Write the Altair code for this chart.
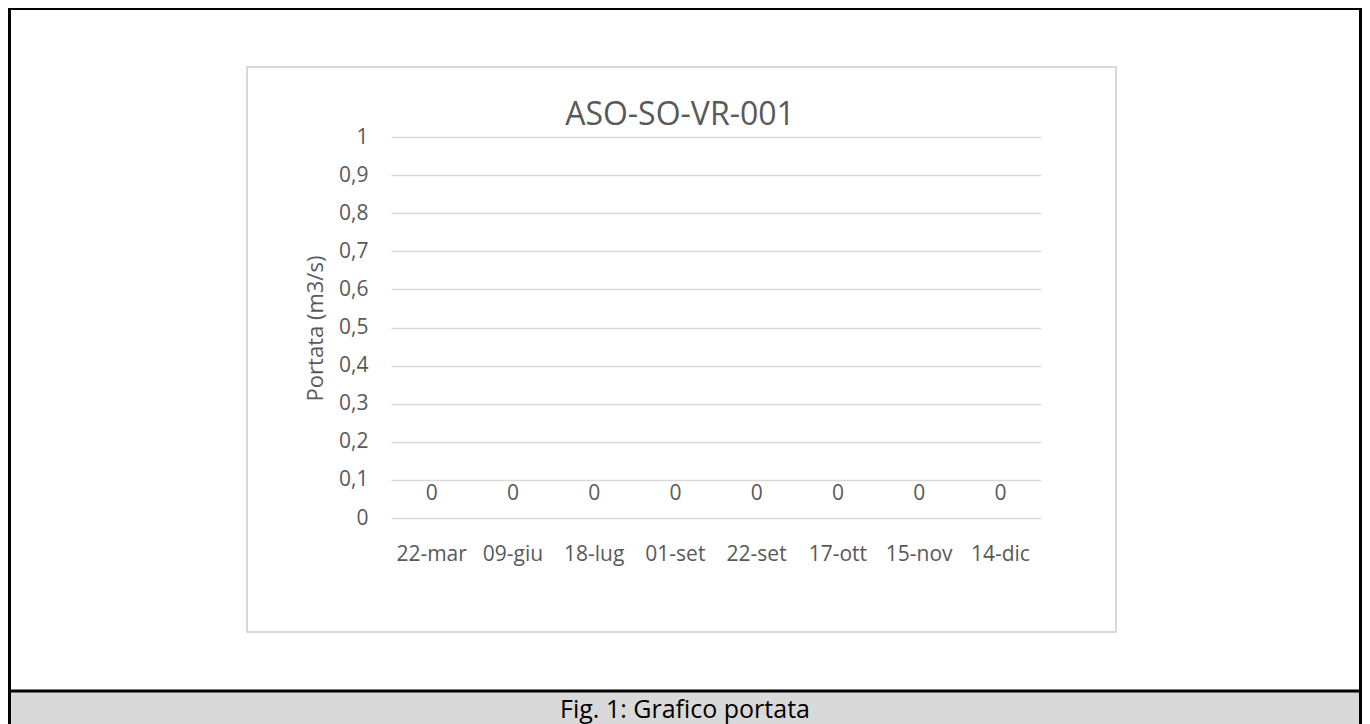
import altair as alt
import pandas as pd

# ---- data ----
dates = ["22-mar", "09-giu", "18-lug", "01-set", "22-set", "17-ott", "15-nov", "14-dic"]
portata = [0, 0, 0, 0, 0, 0, 0, 0]
y_ticks = [0, 0.1, 0.2, 0.3, 0.4, 0.5, 0.6, 0.7, 0.8, 0.9, 1]
chart_title = "ASO-SO-VR-001"
y_title = "Portata (m3/s)"
caption = "Fig. 1: Grafico portata"

FONT = "Open Sans"
GREY_TXT = "#595959"
GRID = "#d9d9d9"

df = pd.DataFrame({"data": dates, "portata": portata})
one = pd.DataFrame({"k": [0]})

W, H = 650, 381
PAD = {"left": 383, "top": 129, "right": 321, "bottom": 206}

x_enc = alt.X(
    "data:N",
    sort=dates,
    scale=alt.Scale(paddingInner=0.4, paddingOuter=0.2),
    axis=alt.Axis(
        title=None, domain=False, ticks=False, labelAngle=0,
        labelFont=FONT, labelFontSize=21, labelColor=GREY_TXT, labelPadding=25,
        labelOverlap=False, grid=False, zindex=1,
    ),
)
y_enc = alt.Y(
    "portata:Q",
    scale=alt.Scale(domain=[0, 1], nice=False, zero=True),
    axis=alt.Axis(
        values=y_ticks, title=y_title, domain=False, ticks=False,
        labelFont=FONT, labelFontSize=21, labelColor=GREY_TXT, labelPadding=23,
        labelOverlap=False, labelFlush=False,
        labelExpr="replace(format(datum.value, '.1~f'), '.', ',')",
        grid=True, gridColor=GRID, gridWidth=1.5, zindex=1,
        titleFont=FONT, titleFontSize=22, titleFontWeight="normal", titleColor=GREY_TXT,
        titleAngle=270, titleX=-76, titleY=191, titleAlign="center", titleBaseline="middle",
    ),
)

# ---- decorations (page frame, caption band, chart box) ----
outer = alt.Chart(one).mark_rect(fill="white", stroke="black", strokeWidth=3).encode(
    x=alt.value(-381.5), x2=alt.value(969.5), y=alt.value(-128.5), y2=alt.value(640)
)
band = alt.Chart(one).mark_rect(fill="#d9d9d9", stroke="black", strokeWidth=3).encode(
    x=alt.value(-381.5), x2=alt.value(969.5), y=alt.value(554), y2=alt.value(640)
)
box = alt.Chart(one).mark_rect(fill="white", stroke=GRID, strokeWidth=2).encode(
    x=alt.value(-144), x2=alt.value(725), y=alt.value(-70), y2=alt.value(495)
)
cap = alt.Chart(one).mark_text(
    text=caption, font=FONT, fontSize=25, color="black", align="center", baseline="alphabetic"
).encode(x=alt.value(294), y=alt.value(581))
ttl = alt.Chart(one).mark_text(
    text=chart_title, font=FONT, fontSize=32, color=GREY_TXT, align="center", baseline="alphabetic"
).encode(x=alt.value(289), y=alt.value(-12))

# ---- data marks ----
bars = alt.Chart(df).mark_bar(color="#4472c4").encode(x=x_enc, y=y_enc)
labels = alt.Chart(df).mark_text(
    font=FONT, fontSize=21, color=GREY_TXT, dy=-24, baseline="middle"
).encode(x=x_enc, y=y_enc, text=alt.Text("portata:Q"))

chart = alt.layer(outer, band, box, bars, labels, cap, ttl).properties(
    width=W, height=H,
    autosize=alt.AutoSizeParams(type="none"),
    padding=PAD,
    background="white",
).configure_view(stroke=None)

chart.save("out.html", embed_options={"renderer": "svg", "actions": False})
